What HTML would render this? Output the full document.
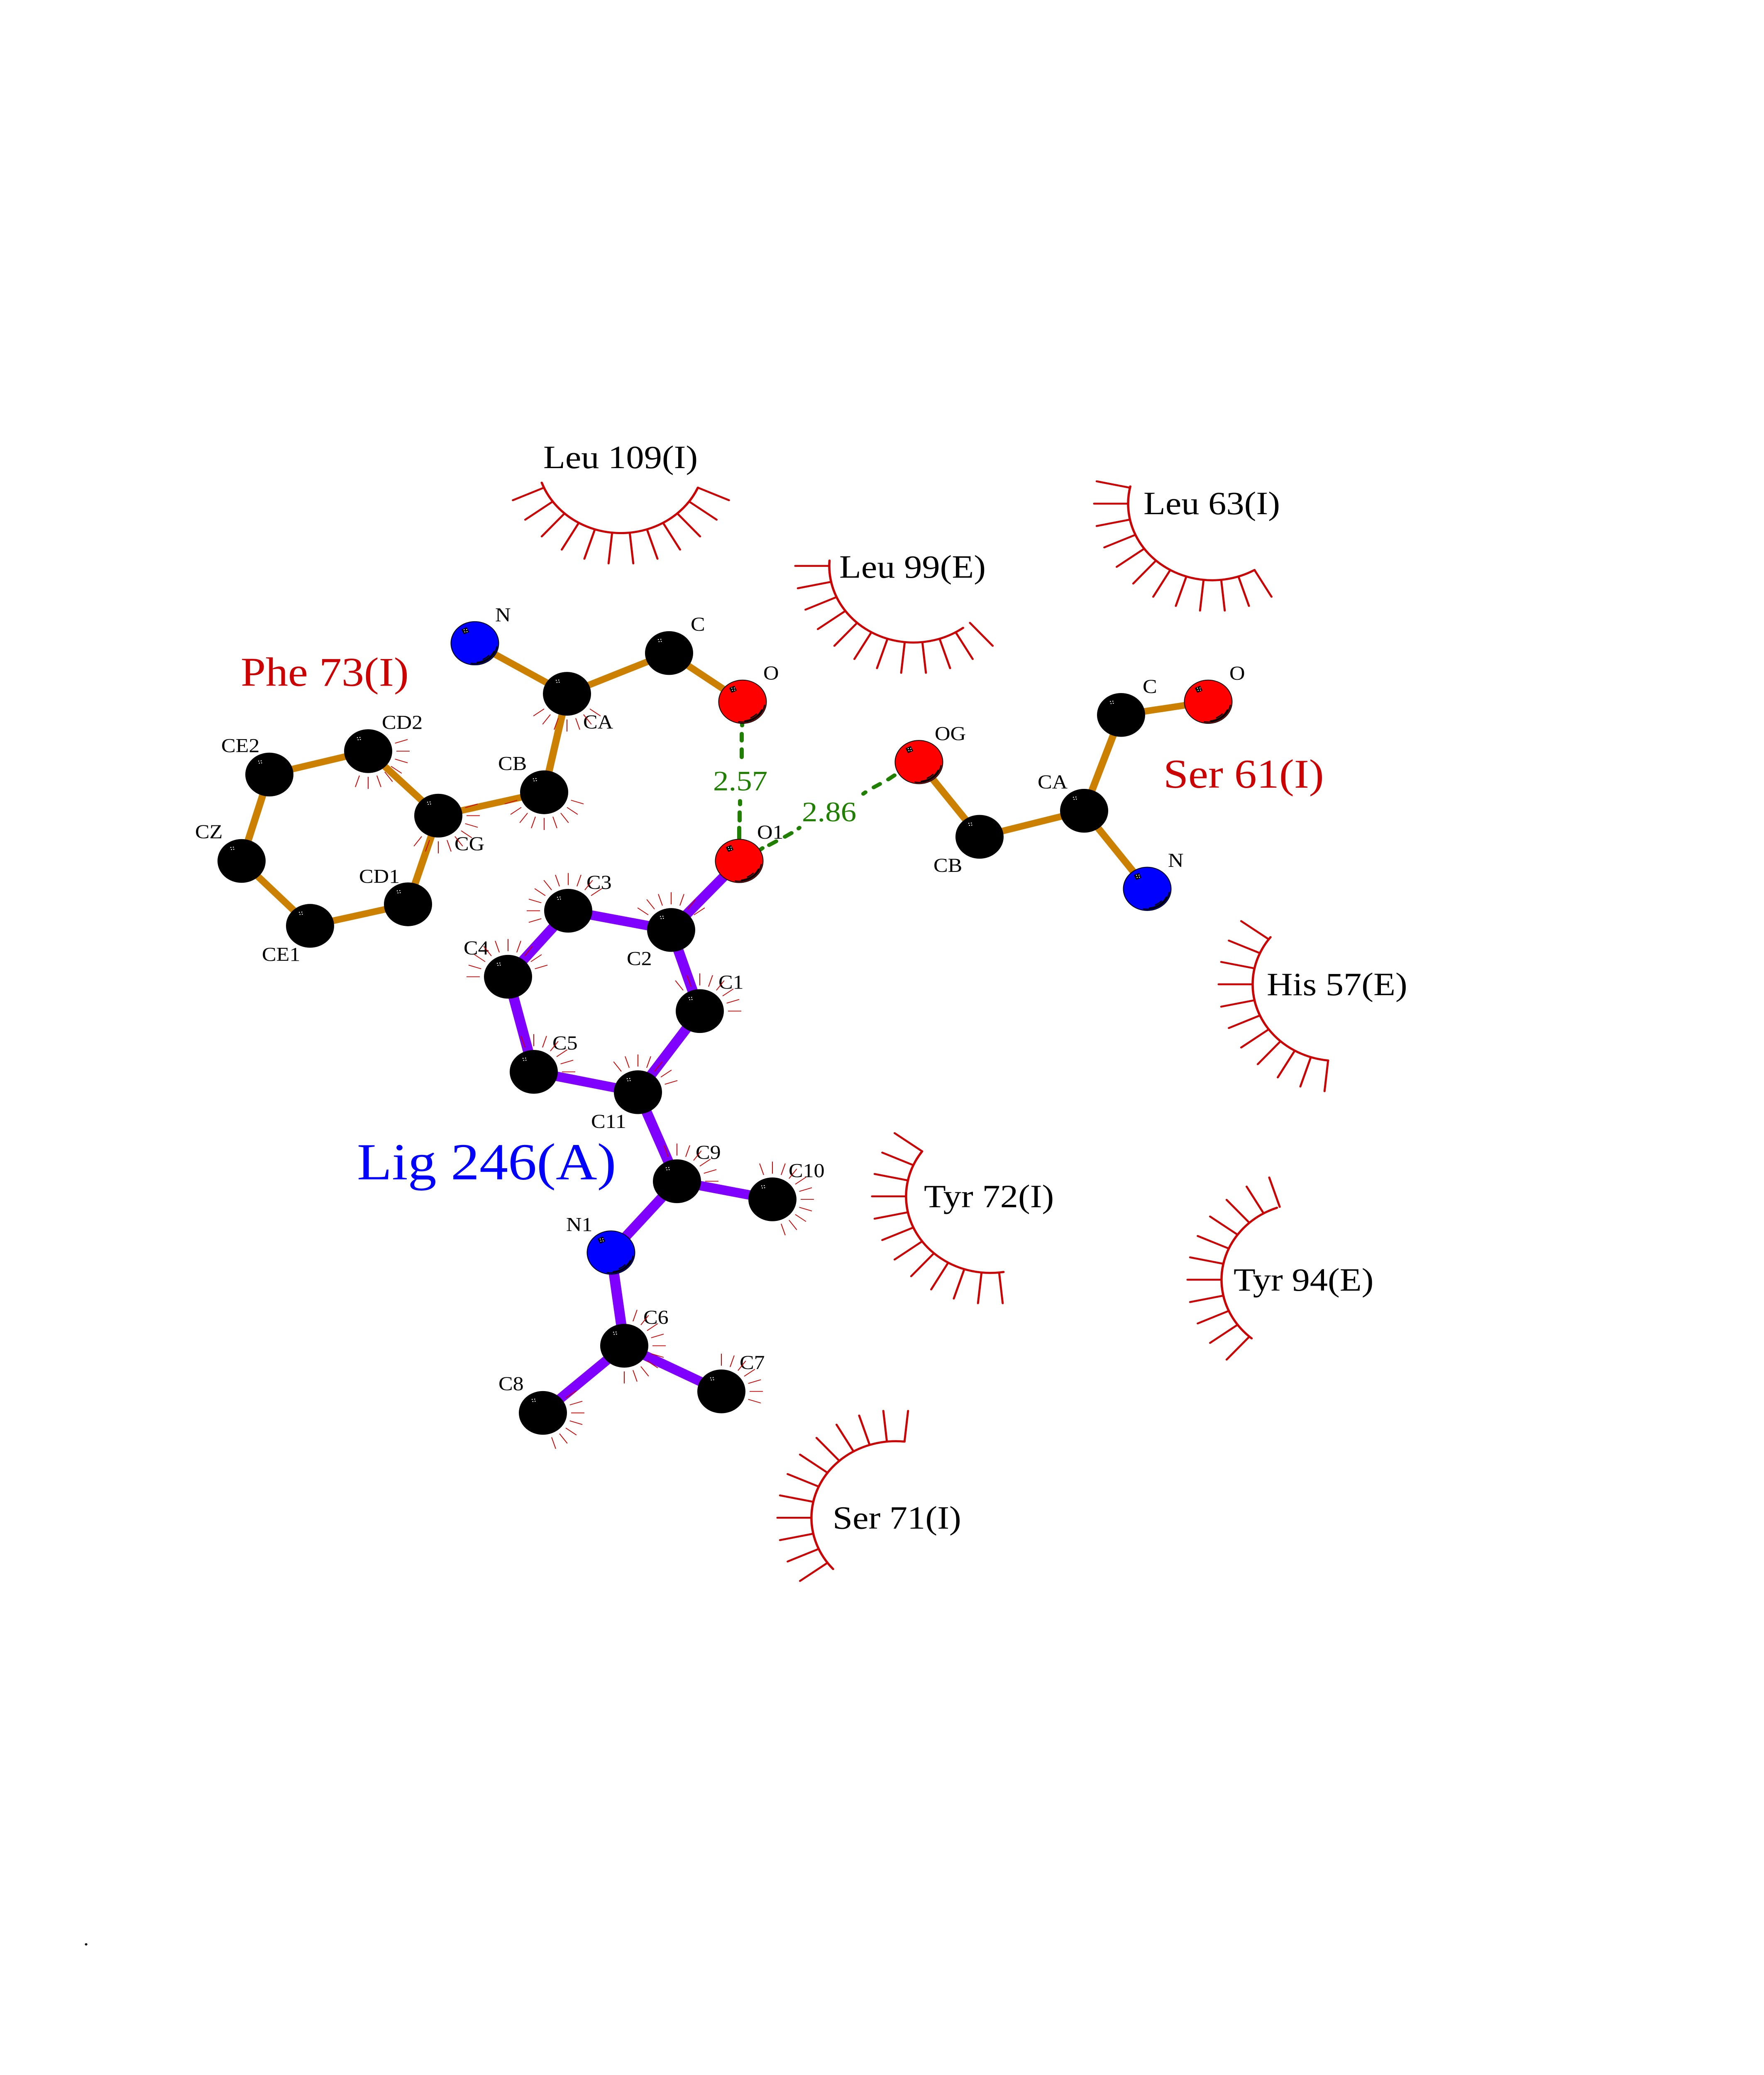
<!DOCTYPE html>
<html><head><meta charset="utf-8"><title>Lig 246(A) interactions</title>
<style>
html,body{margin:0;padding:0;background:#fff;width:100vw;height:100vh;overflow:hidden}
svg{display:block;position:fixed;left:0;top:0;width:100vw;height:100vh}
text{font-family:"Liberation Serif","Times New Roman",serif;white-space:pre}
.a text,text.a{font-size:52px;fill:#000}
.r text{font-size:86.5px;fill:#000}
</style></head><body>
<svg xmlns="http://www.w3.org/2000/svg" viewBox="0 0 4250 5500" preserveAspectRatio="none">
<defs>
<line id="s" x1="203" x2="285" stroke="#cc0000" stroke-width="5" stroke-linecap="round"/>
<line id="t" x1="68" x2="100" stroke="#cc0000" stroke-width="2"/>
<g id="dots" fill="#fff"><rect x="-4" y="-4" width="2.4" height="2.4"/><rect x="2" y="-4.6" width="2.4" height="2.4"/><rect x="-2.4" y="1.6" width="2.4" height="2.4"/><rect x="3" y="1" width="2.4" height="2.4"/></g>
<g id="k"><circle r="58" fill="#000"/><use href="#dots" x="-23" y="-33"/></g>
<g id="sh" fill="none" stroke="#000" stroke-width="3" stroke-linecap="round">
<circle r="54" pathLength="360" stroke-dasharray="90 1000" transform="rotate(10)"/>
<circle r="51" pathLength="360" stroke-dasharray="59 1000" transform="rotate(25)"/>
<circle r="47" pathLength="360" stroke-dasharray="21 1000" transform="rotate(44)"/>
<g transform="translate(-23 -33)"><rect x="-7" y="-7" width="14" height="14" fill="#000" stroke="none" transform="rotate(-25)"/><use href="#dots" stroke="none"/></g>
</g>
<g id="N"><circle r="57.5" fill="#0000ff" stroke="#000" stroke-width="2"/><use href="#sh"/></g>
<g id="O"><circle r="57.5" fill="#ff0000" stroke="#000" stroke-width="2"/><use href="#sh"/></g>
</defs>
<rect width="4250" height="5500" fill="#fff"/>

<!-- hydrophobic arcs -->
<g fill="none" stroke="#cc0000" stroke-linecap="round">
<g transform="translate(1496 1210)"><circle r="203" stroke-width="5.5" pathLength="360" stroke-dasharray="136 1000" transform="rotate(24)"/>
<use href="#s" transform="rotate(24)"/><use href="#s" transform="rotate(36)"/><use href="#s" transform="rotate(48)"/><use href="#s" transform="rotate(60)"/><use href="#s" transform="rotate(72)"/><use href="#s" transform="rotate(84)"/><use href="#s" transform="rotate(96)"/><use href="#s" transform="rotate(108)"/><use href="#s" transform="rotate(120)"/><use href="#s" transform="rotate(132)"/><use href="#s" transform="rotate(144)"/><use href="#s" transform="rotate(156)"/></g>
<g transform="translate(2201 1500)"><circle r="203" stroke-width="5.5" pathLength="360" stroke-dasharray="130 1000" transform="rotate(54)"/>
<use href="#s" transform="rotate(48)"/><use href="#s" transform="rotate(60)"/><use href="#s" transform="rotate(72)"/><use href="#s" transform="rotate(84)"/><use href="#s" transform="rotate(96)"/><use href="#s" transform="rotate(108)"/><use href="#s" transform="rotate(120)"/><use href="#s" transform="rotate(132)"/><use href="#s" transform="rotate(144)"/><use href="#s" transform="rotate(156)"/><use href="#s" transform="rotate(168)"/><use href="#s" transform="rotate(180)"/></g>
<g transform="translate(2921 1335)"><circle r="203" stroke-width="5.5" pathLength="360" stroke-dasharray="133 1000" transform="rotate(60)"/>
<use href="#s" transform="rotate(60)"/><use href="#s" transform="rotate(72)"/><use href="#s" transform="rotate(84)"/><use href="#s" transform="rotate(96)"/><use href="#s" transform="rotate(108)"/><use href="#s" transform="rotate(120)"/><use href="#s" transform="rotate(132)"/><use href="#s" transform="rotate(144)"/><use href="#s" transform="rotate(156)"/><use href="#s" transform="rotate(168)"/><use href="#s" transform="rotate(180)"/><use href="#s" transform="rotate(192)"/></g>
<g transform="translate(3221 2609)"><circle r="203" stroke-width="5.5" pathLength="360" stroke-dasharray="122 1000" transform="rotate(96)"/>
<use href="#s" transform="rotate(96)"/><use href="#s" transform="rotate(108)"/><use href="#s" transform="rotate(120)"/><use href="#s" transform="rotate(132)"/><use href="#s" transform="rotate(144)"/><use href="#s" transform="rotate(156)"/><use href="#s" transform="rotate(168)"/><use href="#s" transform="rotate(180)"/><use href="#s" transform="rotate(192)"/><use href="#s" transform="rotate(204)"/><use href="#s" transform="rotate(216)"/></g>
<g transform="translate(2386 3171)"><circle r="203" stroke-width="5.5" pathLength="360" stroke-dasharray="135 1000" transform="rotate(81)"/>
<use href="#s" transform="rotate(84)"/><use href="#s" transform="rotate(96)"/><use href="#s" transform="rotate(108)"/><use href="#s" transform="rotate(120)"/><use href="#s" transform="rotate(132)"/><use href="#s" transform="rotate(144)"/><use href="#s" transform="rotate(156)"/><use href="#s" transform="rotate(168)"/><use href="#s" transform="rotate(180)"/><use href="#s" transform="rotate(192)"/><use href="#s" transform="rotate(204)"/><use href="#s" transform="rotate(216)"/></g>
<g transform="translate(3146 3392)"><circle r="203" stroke-width="5.5" pathLength="360" stroke-dasharray="120 1000" transform="rotate(130)"/>
<use href="#s" transform="rotate(132)"/><use href="#s" transform="rotate(144)"/><use href="#s" transform="rotate(156)"/><use href="#s" transform="rotate(168)"/><use href="#s" transform="rotate(180)"/><use href="#s" transform="rotate(192)"/><use href="#s" transform="rotate(204)"/><use href="#s" transform="rotate(216)"/><use href="#s" transform="rotate(228)"/><use href="#s" transform="rotate(240)"/><use href="#s" transform="rotate(252)"/></g>
<g transform="translate(2158 4023)"><circle r="203" stroke-width="5.5" pathLength="360" stroke-dasharray="138 1000" transform="rotate(138)"/>
<use href="#s" transform="rotate(144)"/><use href="#s" transform="rotate(156)"/><use href="#s" transform="rotate(168)"/><use href="#s" transform="rotate(180)"/><use href="#s" transform="rotate(192)"/><use href="#s" transform="rotate(204)"/><use href="#s" transform="rotate(216)"/><use href="#s" transform="rotate(228)"/><use href="#s" transform="rotate(240)"/><use href="#s" transform="rotate(252)"/><use href="#s" transform="rotate(264)"/><use href="#s" transform="rotate(276)"/></g>
</g>

<!-- bonds -->
<g stroke="#cc8000" stroke-width="17.5" fill="none">
<line x1="1144" y1="1705" x2="1366" y2="1839"/><line x1="1366" y1="1839" x2="1612" y2="1731"/><line x1="1612" y1="1731" x2="1789" y2="1860"/><line x1="1366" y1="1839" x2="1311" y2="2100"/><line x1="1311" y1="2100" x2="1056" y2="2162"/><line x1="1056" y1="2162" x2="887" y2="1991"/><line x1="887" y1="1991" x2="649" y2="2053"/><line x1="649" y1="2053" x2="582" y2="2282"/><line x1="582" y1="2282" x2="747" y2="2454"/><line x1="747" y1="2454" x2="983" y2="2397"/><line x1="983" y1="2397" x2="1056" y2="2162"/>
<line x1="2911" y1="1860" x2="2701" y2="1895"/><line x1="2701" y1="1895" x2="2612" y2="2149"/><line x1="2612" y1="2149" x2="2360" y2="2218"/><line x1="2360" y1="2218" x2="2214" y2="2020"/><line x1="2612" y1="2149" x2="2764" y2="2356"/>
</g>
<g stroke="#8000ff" stroke-width="25" fill="none">
<line x1="1781" y1="2282" x2="1617" y2="2465"/><line x1="1617" y1="2465" x2="1369" y2="2414"/><line x1="1369" y1="2414" x2="1224" y2="2589"/><line x1="1224" y1="2589" x2="1286" y2="2841"/><line x1="1286" y1="2841" x2="1537" y2="2895"/><line x1="1537" y1="2895" x2="1686" y2="2680"/><line x1="1686" y1="2680" x2="1617" y2="2465"/><line x1="1537" y1="2895" x2="1631" y2="3131"/><line x1="1631" y1="3131" x2="1861" y2="3179"/><line x1="1631" y1="3131" x2="1472" y2="3320"/><line x1="1472" y1="3320" x2="1504" y2="3567"/><line x1="1504" y1="3567" x2="1738" y2="3688"/><line x1="1504" y1="3567" x2="1308" y2="3745"/>
</g>

<!-- hydrogen bonds -->
<g stroke="#1f8000" stroke-width="10" stroke-linecap="round" fill="none">
<line x1="1788" y1="1918" x2="1788" y2="1923"/><line x1="1787" y1="1945" x2="1787" y2="1963"/><line x1="1787" y1="1986" x2="1787" y2="2007"/>
<line x1="1783" y1="2123" x2="1783" y2="2132"/><line x1="1782" y1="2153" x2="1782" y2="2175"/><line x1="1781" y1="2194" x2="1781" y2="2222"/>
<line x1="1832" y1="2252" x2="1837" y2="2248"/><line x1="1853" y1="2240" x2="1870" y2="2230"/><line x1="1891" y1="2218" x2="1907" y2="2208"/><line x1="1924" y1="2196" x2="1926" y2="2194"/>
<line x1="2080" y1="2104" x2="2085" y2="2100"/><line x1="2105" y1="2087" x2="2120" y2="2078"/><line x1="2140" y1="2066" x2="2155" y2="2055"/>
</g>

<!-- atoms -->
<use href="#N" x="1144" y="1705"/><use href="#k" x="1366" y="1839"/><use href="#k" x="1612" y="1731"/><use href="#O" x="1789" y="1860"/><use href="#k" x="1311" y="2100"/><use href="#k" x="1056" y="2162"/><use href="#k" x="887" y="1991"/><use href="#k" x="649" y="2053"/><use href="#k" x="582" y="2282"/><use href="#k" x="747" y="2454"/><use href="#k" x="983" y="2397"/>
<use href="#O" x="2911" y="1860"/><use href="#k" x="2701" y="1895"/><use href="#k" x="2612" y="2149"/><use href="#k" x="2360" y="2218"/><use href="#O" x="2214" y="2020"/><use href="#N" x="2764" y="2356"/>
<use href="#O" x="1781" y="2282"/><use href="#k" x="1617" y="2465"/><use href="#k" x="1369" y="2414"/><use href="#k" x="1224" y="2589"/><use href="#k" x="1286" y="2841"/><use href="#k" x="1537" y="2895"/><use href="#k" x="1686" y="2680"/><use href="#k" x="1631" y="3131"/><use href="#k" x="1861" y="3179"/><use href="#N" x="1472" y="3320"/><use href="#k" x="1504" y="3567"/><use href="#k" x="1738" y="3688"/><use href="#k" x="1308" y="3745"/>

<!-- labels -->
<g class="a">
<text x="1193" y="1647">N</text><text x="1664" y="1672">C</text><text x="1839" y="1801">O</text><text x="1405" y="1931">CA</text><text x="1200" y="2041">CB</text><text x="920" y="1932">CD2</text><text x="533" y="1994">CE2</text><text x="470" y="2222">CZ</text><text x="631" y="2547">CE1</text><text x="865" y="2340">CD1</text><text x="1095" y="2254">CG</text>
<text x="2252" y="1962">OG</text><text x="2500" y="2090">CA</text><text x="2249" y="2311">CB</text><text x="2753" y="1837">C</text><text x="2962" y="1802">O</text><text x="2814" y="2298">N</text>
<text x="1824" y="2223">O1</text><text x="1413" y="2356">C3</text><text x="1117" y="2530">C4</text><text x="1510" y="2558">C2</text><text x="1731" y="2621">C1</text><text x="1331" y="2782">C5</text><text x="1424" y="2990">C11</text><text x="1676" y="3072">C9</text><text x="1900" y="3120">C10</text><text x="1364" y="3263">N1</text><text x="1550" y="3509">C6</text><text x="1782" y="3629">C7</text><text x="1201" y="3685">C8</text>
</g>
<g class="r">
<text x="1309" y="1241">Leu 109(I)</text><text x="2022" y="1531">Leu 99(E)</text><text x="2755" y="1363">Leu 63(I)</text><text x="3052" y="2638">His 57(E)</text><text x="2226" y="3200">Tyr 72(I)</text><text x="2972" y="3421">Tyr 94(E)</text><text x="2006" y="4052">Ser 71(I)</text>
</g>
<text x="580" y="1818" font-size="108" fill="#cc0000">Phe 73(I)</text>
<text x="2803" y="2088" font-size="108" fill="#cc0000">Ser 61(I)</text>
<text x="860" y="3126" font-size="138" fill="#0000ff">Lig 246(A)</text>
<text x="1718" y="2095" font-size="75" fill="#1f8000">2.57</text>
<text x="1932" y="2177" font-size="75" fill="#1f8000">2.86</text>
<text x="201" y="5156" font-size="52" fill="#000">.</text>

<!-- contact ticks -->
<g transform="translate(1366 1839)"><use href="#t" transform="rotate(36)"/><use href="#t" transform="rotate(54)"/><use href="#t" transform="rotate(72)"/><use href="#t" transform="rotate(90)"/><use href="#t" transform="rotate(108)"/><use href="#t" transform="rotate(126)"/><use href="#t" transform="rotate(144)"/></g>
<g transform="translate(1056 2162)"><use href="#t" transform="rotate(-18)"/><use href="#t" transform="rotate(0)"/><use href="#t" transform="rotate(18)"/><use href="#t" transform="rotate(36)"/><use href="#t" transform="rotate(54)"/><use href="#t" transform="rotate(72)"/><use href="#t" transform="rotate(90)"/><use href="#t" transform="rotate(108)"/><use href="#t" transform="rotate(126)"/></g>
<g transform="translate(1311 2100)"><use href="#t" transform="rotate(18)"/><use href="#t" transform="rotate(36)"/><use href="#t" transform="rotate(54)"/><use href="#t" transform="rotate(72)"/><use href="#t" transform="rotate(90)"/><use href="#t" transform="rotate(108)"/><use href="#t" transform="rotate(126)"/><use href="#t" transform="rotate(144)"/><use href="#t" transform="rotate(162)"/></g>
<g transform="translate(887 1991)"><use href="#t" transform="rotate(-18)"/><use href="#t" transform="rotate(0)"/><use href="#t" transform="rotate(18)"/><use href="#t" transform="rotate(36)"/><use href="#t" transform="rotate(54)"/><use href="#t" transform="rotate(72)"/><use href="#t" transform="rotate(90)"/><use href="#t" transform="rotate(108)"/></g>
<g transform="translate(1369 2414)"><use href="#t" transform="rotate(162)"/><use href="#t" transform="rotate(180)"/><use href="#t" transform="rotate(198)"/><use href="#t" transform="rotate(216)"/><use href="#t" transform="rotate(234)"/><use href="#t" transform="rotate(252)"/><use href="#t" transform="rotate(270)"/><use href="#t" transform="rotate(288)"/><use href="#t" transform="rotate(306)"/><use href="#t" transform="rotate(324)"/></g>
<g transform="translate(1224 2589)"><use href="#t" transform="rotate(180)"/><use href="#t" transform="rotate(198)"/><use href="#t" transform="rotate(216)"/><use href="#t" transform="rotate(234)"/><use href="#t" transform="rotate(252)"/><use href="#t" transform="rotate(270)"/><use href="#t" transform="rotate(288)"/><use href="#t" transform="rotate(306)"/><use href="#t" transform="rotate(324)"/><use href="#t" transform="rotate(342)"/></g>
<g transform="translate(1617 2465)"><use href="#t" transform="rotate(216)"/><use href="#t" transform="rotate(234)"/><use href="#t" transform="rotate(252)"/><use href="#t" transform="rotate(270)"/><use href="#t" transform="rotate(288)"/><use href="#t" transform="rotate(306)"/><use href="#t" transform="rotate(324)"/></g>
<g transform="translate(1686 2680)"><use href="#t" transform="rotate(234)"/><use href="#t" transform="rotate(252)"/><use href="#t" transform="rotate(270)"/><use href="#t" transform="rotate(288)"/><use href="#t" transform="rotate(306)"/><use href="#t" transform="rotate(324)"/><use href="#t" transform="rotate(342)"/><use href="#t" transform="rotate(360)"/></g>
<g transform="translate(1286 2841)"><use href="#t" transform="rotate(252)"/><use href="#t" transform="rotate(270)"/><use href="#t" transform="rotate(288)"/><use href="#t" transform="rotate(306)"/><use href="#t" transform="rotate(324)"/><use href="#t" transform="rotate(342)"/><use href="#t" transform="rotate(360)"/></g>
<g transform="translate(1537 2895)"><use href="#t" transform="rotate(234)"/><use href="#t" transform="rotate(252)"/><use href="#t" transform="rotate(270)"/><use href="#t" transform="rotate(288)"/><use href="#t" transform="rotate(306)"/><use href="#t" transform="rotate(324)"/><use href="#t" transform="rotate(342)"/></g>
<g transform="translate(1631 3131)"><use href="#t" transform="rotate(252)"/><use href="#t" transform="rotate(270)"/><use href="#t" transform="rotate(288)"/><use href="#t" transform="rotate(306)"/><use href="#t" transform="rotate(324)"/><use href="#t" transform="rotate(342)"/><use href="#t" transform="rotate(360)"/></g>
<g transform="translate(1861 3179)"><use href="#t" transform="rotate(252)"/><use href="#t" transform="rotate(270)"/><use href="#t" transform="rotate(288)"/><use href="#t" transform="rotate(306)"/><use href="#t" transform="rotate(324)"/><use href="#t" transform="rotate(342)"/><use href="#t" transform="rotate(0)"/><use href="#t" transform="rotate(18)"/><use href="#t" transform="rotate(36)"/><use href="#t" transform="rotate(54)"/><use href="#t" transform="rotate(72)"/></g>
<g transform="translate(1504 3567)"><use href="#t" transform="rotate(288)"/><use href="#t" transform="rotate(306)"/><use href="#t" transform="rotate(324)"/><use href="#t" transform="rotate(342)"/><use href="#t" transform="rotate(0)"/><use href="#t" transform="rotate(18)"/><use href="#t" transform="rotate(36)"/><use href="#t" transform="rotate(54)"/><use href="#t" transform="rotate(72)"/><use href="#t" transform="rotate(90)"/></g>
<g transform="translate(1738 3688)"><use href="#t" transform="rotate(270)"/><use href="#t" transform="rotate(288)"/><use href="#t" transform="rotate(306)"/><use href="#t" transform="rotate(324)"/><use href="#t" transform="rotate(342)"/><use href="#t" transform="rotate(0)"/><use href="#t" transform="rotate(18)"/></g>
<g transform="translate(1308 3745)"><use href="#t" transform="rotate(-36)"/><use href="#t" transform="rotate(-18)"/><use href="#t" transform="rotate(0)"/><use href="#t" transform="rotate(18)"/><use href="#t" transform="rotate(36)"/><use href="#t" transform="rotate(54)"/><use href="#t" transform="rotate(72)"/></g>
</svg>
</body></html>
